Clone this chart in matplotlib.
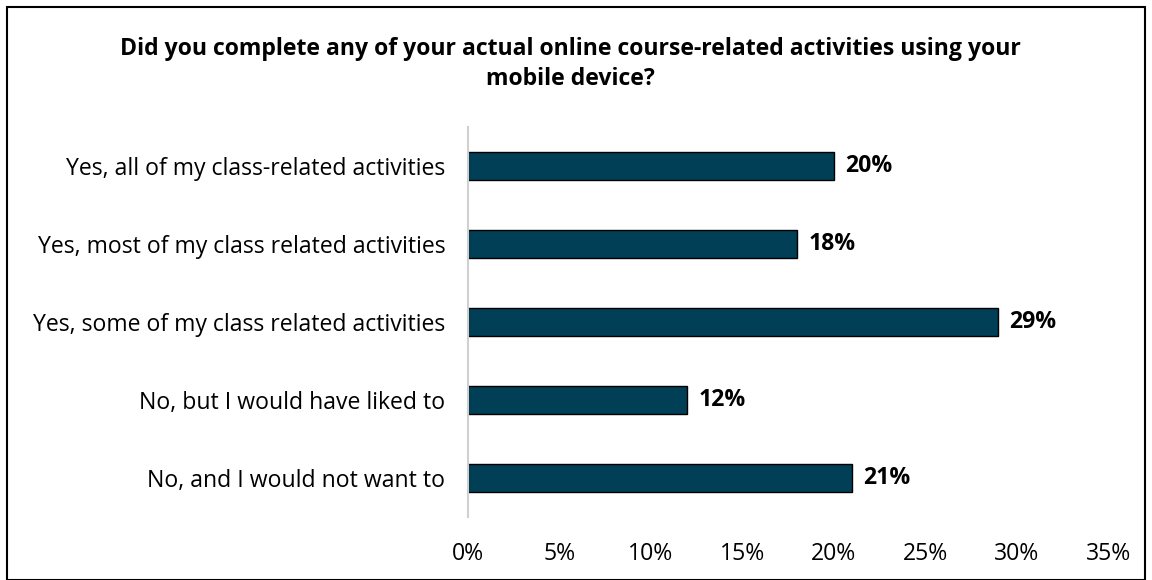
import matplotlib.pyplot as plt
from matplotlib.patches import Rectangle

categories = ['Yes, all of my class-related activities',
              'Yes, most of my class related activities',
              'Yes, some of my class related activities',
              'No, but I would have liked to',
              'No, and I would not want to']
values = [20, 18, 29, 12, 21]
ticks = [0, 5, 10, 15, 20, 25, 30, 35]

plt.rcParams['font.family'] = ['Open Sans', 'DejaVu Sans']
fs = 16.6

fig = plt.figure(figsize=(11.52, 5.8), dpi=100)
ax = fig.add_axes([0.406, 0.109, 0.556, 0.672])

pos = list(range(len(categories)))
ax.barh(pos, values, height=0.36, color='#003f56', edgecolor='black', linewidth=1)
for p, v in zip(pos, values):
    ax.text(v + 0.6, p, f'{v}%', va='center', ha='left', fontsize=fs, fontweight='bold')

ax.set_yticks(pos)
ax.set_yticklabels(categories, fontsize=fs)
ax.set_ylim(len(categories) - 0.5, -0.5)
ax.set_xlim(0, 35)
ax.set_xticks(ticks)
ax.set_xticklabels([f'{t}%' for t in ticks], fontsize=fs)
ax.tick_params(length=0, pad=16)
ax.tick_params(axis='x', pad=18)
for s in ['top', 'right', 'bottom']:
    ax.spines[s].set_visible(False)
ax.spines['left'].set_color('#d0d0d0')
ax.spines['left'].set_linewidth(1.5)

fig.text(0.495, 0.89, 'Did you complete any of your actual online course-related activities using your\nmobile device?',
         ha='center', va='center', fontsize=fs, fontweight='bold', linespacing=1.35)

fig.patches.append(Rectangle((0.006, 0.0), 0.988, 0.988, transform=fig.transFigure,
                             fill=False, edgecolor='black', linewidth=1.5))

fig.savefig('out.png', dpi=100)
